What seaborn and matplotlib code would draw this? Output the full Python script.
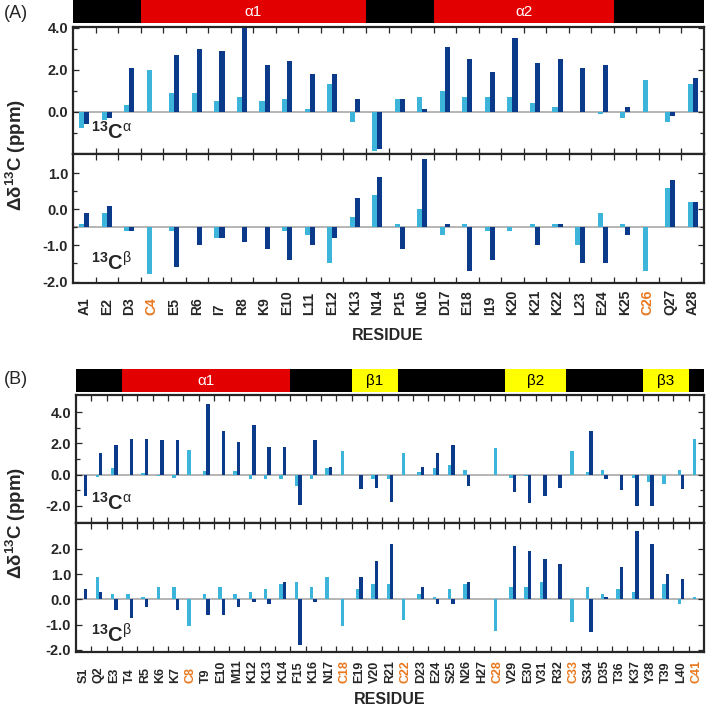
import numpy as np
import pandas as pd
import seaborn as sns
import matplotlib.pyplot as plt
from matplotlib.ticker import FormatStrFormatter

# residue names
res_a = ['A1', 'E2', 'D3', 'C4', 'E5', 'R6', 'I7', 'R8', 'K9', 'E10', 'L11', 'E12', 'K13', 'N14',
         'P15', 'N16', 'D17', 'E18', 'I19', 'K20', 'K21', 'K22', 'L23', 'E24', 'K25', 'C26', 'Q27', 'A28']
res_b = ['S1', 'Q2', 'E3', 'T4', 'R5', 'K6', 'K7', 'C8', 'T9', 'E10', 'M11', 'K12', 'K13', 'K14',
         'F15', 'K16', 'N17', 'C18', 'E19', 'V20', 'R21', 'C22', 'D23', 'E24', 'S25', 'N26', 'H27',
         'C28', 'V29', 'E30', 'V31', 'R32', 'C33', 'S34', 'D35', 'T36', 'K37', 'Y38', 'T39', 'L40', 'C41']

# (A) Calpha / Cbeta secondary shifts, two data sets (light / dark)
ca_a_1 = [-0.8, -0.4, 0.3, 2.0, 0.9, 0.9, 0.5, 0.7, 0.5, 0.6, 0.1, 1.3, -0.5, -1.9,
          0.6, 0.7, 1.0, 0.7, 0.7, 0.7, 0.4, 0.2, 0.0, -0.1, -0.3, 1.5, -0.5, 1.3]
ca_a_2 = [-0.6, -0.3, 2.1, 0.0, 2.7, 3.0, 2.9, 4.1, 2.2, 2.4, 1.8, 1.8, 0.6, -1.8,
          0.6, 0.1, 3.1, 2.5, 1.9, 3.5, 2.3, 2.5, 2.1, 2.2, 0.2, 0.0, -0.2, 1.6]
cb_a_1 = [0.1, 0.4, -0.1, -1.3, -0.1, 0.0, -0.3, 0.0, 0.0, -0.1, -0.2, -1.0, 0.3, 0.9,
          0.1, 0.5, -0.2, 0.1, -0.1, -0.1, 0.1, 0.1, -0.5, 0.4, 0.1, -1.2, 1.1, 0.7]
cb_a_2 = [0.4, 0.6, -0.1, 0.0, -1.1, -0.5, -0.3, -0.4, -0.6, -0.9, -0.5, -0.3, 0.8, 1.4,
          -0.6, 1.9, 0.1, -1.2, -0.9, 0.0, -0.5, 0.1, -1.0, -1.0, -0.2, 0.0, 1.3, 0.7]

# (B)
ca_b_1 = [0.0, -0.15, 0.4, 0.0, 0.1, -0.1, -0.2, 1.6, 0.2, 0.0, 0.2, -0.3, -0.3, -0.3,
          -0.7, -0.3, 0.4, 1.5, 0.0, -0.3, -0.3, 1.4, 0.15, 0.4, 0.6, 0.3, 0.0,
          1.7, -0.2, -0.1, 0.0, 0.0, 1.5, 0.15, 0.3, 0.0, -0.2, -0.5, -0.6, 0.3, 2.3]
ca_b_2 = [-1.4, 1.4, 1.9, 2.3, 2.3, 2.2, 2.2, 0.0, 4.5, 2.8, 2.1, 3.2, 1.8, 1.8,
          -1.95, 2.2, 0.5, 0.0, -0.95, -0.85, -1.75, 0.0, 0.5, 1.4, 1.9, -0.75, 0.0,
          0.0, -1.1, -1.85, -1.35, -0.85, 0.0, 2.8, -0.3, -1.0, -2.0, -2.0, 0.0, -0.95, 0.0]
cb_b_1 = [0.0, 0.9, 0.2, 0.2, 0.1, 0.5, 0.5, -1.05, 0.2, 0.5, 0.2, 0.3, 0.4, 0.6,
          0.7, 0.5, 0.9, -1.05, 0.4, 0.6, 0.6, -0.8, 0.2, 0.1, 0.4, 0.6, 0.0,
          -1.25, 0.5, 0.5, 0.7, 0.0, -0.9, 0.5, 0.2, 0.4, 0.3, 0.0, 0.6, -0.2, 0.1]
cb_b_2 = [0.4, 0.3, -0.4, -0.75, -0.3, 0.0, -0.4, 0.0, -0.6, -0.6, -0.3, -0.1, -0.2, 0.7,
          -1.8, -0.1, 0.0, 0.0, 0.9, 1.5, 2.2, 0.0, 0.5, -0.2, -0.2, 0.7, 0.0,
          0.0, 2.1, 1.9, 1.6, 1.4, 0.0, -1.3, 0.1, 1.3, 2.7, 2.2, 1.0, 0.8, 0.0]

# secondary structure segments (first, last residue)
ss_a_start = [1, 4, 14, 17, 25]
ss_a_end = [3, 13, 16, 24, 28]
ss_a_name = ['', 'α1', '', 'α2', '']
ss_b_start = [1, 4, 15, 19, 22, 29, 33, 38, 41]
ss_b_end = [3, 14, 18, 21, 28, 32, 37, 40, 41]
ss_b_name = ['', 'α1', '', 'β1', '', 'β2', '', 'β3', '']

sns.set_style('ticks')
plt.rcParams['font.family'] = ['Liberation Sans', 'DejaVu Sans']
plt.rcParams['mathtext.fontset'] = 'custom'
plt.rcParams['mathtext.rm'] = 'Liberation Sans'
plt.rcParams['mathtext.bf'] = 'Liberation Sans:bold'
plt.rcParams['mathtext.it'] = 'Liberation Sans'
plt.rcParams['axes.unicode_minus'] = False

light = '#3db5da'
dark = '#0c3a8a'
red = '#e20000'
yellow = '#ffff00'
orange = '#e8781e'

W, H = 709, 707
fig = plt.figure(figsize=(W / 100, H / 100), dpi=100)


def box(x0, y0, x1, y1):
    # pixel box (y measured from top) -> figure fraction
    return [x0 / W, 1 - y1 / H, (x1 - x0) / W, (y1 - y0) / H]


def ss_bar(rect, n, starts, ends, names):
    ax = fig.add_axes(rect)
    for s, e, nm in zip(starts, ends, names):
        if nm.startswith('α'):
            col, tcol = red, 'white'
        elif nm.startswith('β'):
            col, tcol = yellow, 'black'
        else:
            col, tcol = 'black', 'black'
        ax.barh(0, e - s + 1, left=s - 1.5, height=1, color=col, linewidth=0)
        if nm:
            ax.text((s + e) / 2 - 1, -0.02, nm, ha='center', va='center', color=tcol, fontsize=11)
    ax.set_xlim(-0.5, n - 0.5)
    ax.set_ylim(-0.5, 0.5)
    ax.axis('off')


def shift_panel(rect, res, v1, v2, ylim, labsize, labpad):
    ax = fig.add_axes(rect)
    n = len(res)
    df = pd.DataFrame({'residue': res + res, 'shift': v1 + v2, 'set': ['s1'] * n + ['s2'] * n})
    sns.barplot(data=df, x='residue', y='shift', hue='set', order=res, hue_order=['s1', 's2'],
                palette={'s1': light, 's2': dark}, width=0.45, saturation=1, errorbar=None,
                legend=False, linewidth=0, ax=ax)
    ax.axhline(0, color='#a8a8a8', lw=1.2, zorder=0.5)
    ax.set_xlim(-0.5, n - 0.5)
    ax.set_ylim(*ylim)
    ax.set_xticks(np.arange(0.5, n - 1), minor=True)
    ax.tick_params(axis='x', which='major', length=0, pad=labpad)
    ax.tick_params(axis='x', which='minor', length=4, width=0.9, direction='in', top=True, bottom=True)
    ax.tick_params(axis='y', which='both', direction='in', left=True, right=True, width=0.9)
    ax.tick_params(axis='y', which='major', length=4, labelsize=10.5)
    ax.tick_params(axis='y', which='minor', length=3)
    for sp in ax.spines.values():
        sp.set_linewidth(1.6)
    ax.set_xlabel('')
    ax.set_ylabel('')
    # residue labels sit on a common bottom line
    for t in ax.get_xticklabels():
        t.set_rotation(90)
        t.set_fontweight('bold')
        t.set_fontsize(labsize)
        t.set_va('bottom')
        if t.get_text().startswith('C'):
            t.set_color(orange)
    return ax


def bold_y(ax):
    ax.yaxis.set_major_formatter(FormatStrFormatter('%.1f'))
    for t in ax.get_yticklabels():
        t.set_fontweight('bold')


tag_a = r'$^{\mathbf{13}}$C$^{\alpha}$'
tag_b = r'$^{\mathbf{13}}$C$^{\beta}$'
ylab = r'Δδ$^{\mathbf{13}}$C (ppm)'

# ---------------- panel A ----------------
ss_bar(box(73, 0, 704, 23), len(res_a), ss_a_start, ss_a_end, ss_a_name)

ax1 = shift_panel(box(73, 27, 704, 154), res_a, ca_a_1, ca_a_2, (-2.02, 4.03), 10, 23)
ax1.set_yticks([0, 2, 4])
ax1.set_yticks([-1, 1, 3], minor=True)
ax1.tick_params(axis='x', labelbottom=False)
bold_y(ax1)
ax1.text(0.028, 0.12, tag_a, transform=ax1.transAxes, fontsize=14.5, fontweight='bold')

ax2 = shift_panel(box(73, 154, 704, 283), res_a, cb_a_1, cb_a_2, (-1.54, 2.03), 10, 23)
ax2.set_yticks([-1.5, -0.5, 0.5, 1.5], labels=['-2.0', '-1.0', '0.0', '1.0'])
ax2.set_yticks([-1.0, 0.0, 1.0], minor=True)
for t in ax2.get_yticklabels():
    t.set_fontweight('bold')
ax2.text(0.028, 0.10, tag_b, transform=ax2.transAxes, fontsize=14.5, fontweight='bold')

fig.text(4 / W, 1 - 14 / H, '(A)', fontsize=13, va='center')
fig.text(16 / W, 1 - 155 / H, ylab, rotation=90, ha='center', va='center',
         fontsize=13.5, fontweight='bold')
fig.text(388 / W, 1 - 335 / H, 'RESIDUE', ha='center', va='center', fontsize=11.5, fontweight='bold')

# ---------------- panel B ----------------
ss_bar(box(76, 369, 704, 392), len(res_b), ss_b_start, ss_b_end, ss_b_name)

ax3 = shift_panel(box(76, 395, 704, 523), res_b, ca_b_1, ca_b_2, (-3.1, 5.1), 9, 22)
ax3.set_yticks([-2, 0, 2, 4])
ax3.set_yticks([-1, 1, 3], minor=True)
ax3.tick_params(axis='x', labelbottom=False)
bold_y(ax3)
ax3.text(0.024, 0.10, tag_a, transform=ax3.transAxes, fontsize=14.5, fontweight='bold')

ax4 = shift_panel(box(76, 523, 704, 652), res_b, cb_b_1, cb_b_2, (-2.08, 3.02), 9, 22)
ax4.set_yticks([-2, -1, 0, 1, 2])
bold_y(ax4)
ax4.text(0.024, 0.07, tag_b, transform=ax4.transAxes, fontsize=14.5, fontweight='bold')

fig.text(4 / W, 1 - 380 / H, '(B)', fontsize=13, va='center')
fig.text(16 / W, 1 - 523 / H, ylab, rotation=90, ha='center', va='center',
         fontsize=13.5, fontweight='bold')
fig.text(390 / W, 1 - 699 / H, 'RESIDUE', ha='center', va='center', fontsize=11.5, fontweight='bold')

fig.savefig('out.png', dpi=100)
